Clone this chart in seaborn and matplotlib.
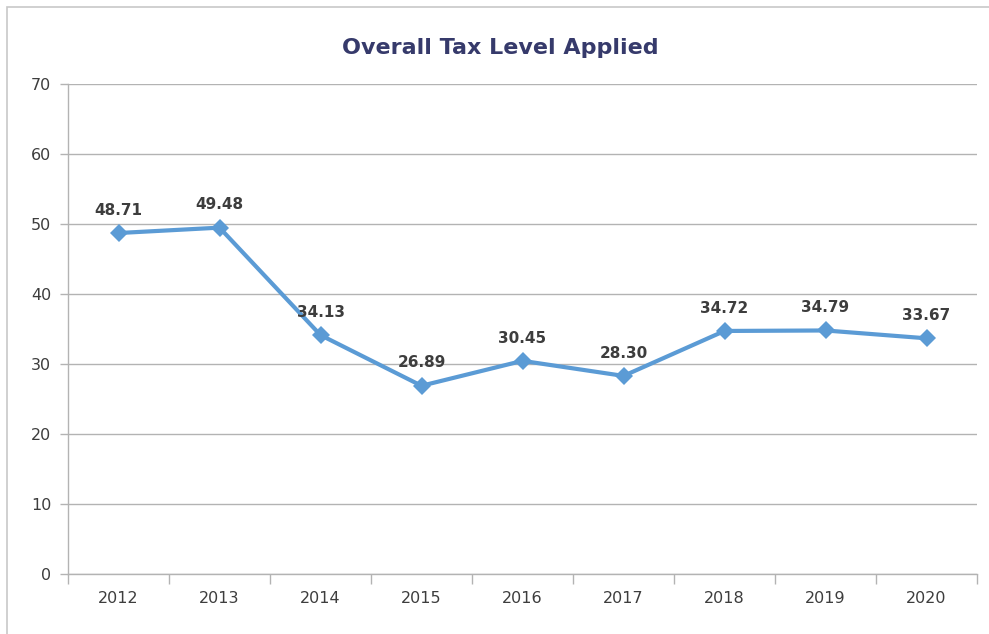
import matplotlib
matplotlib.use("Agg")
import matplotlib.pyplot as plt
from matplotlib.patches import Rectangle
from matplotlib.ticker import FixedLocator, NullFormatter
import pandas as pd
import seaborn as sns

years = ["2012", "2013", "2014", "2015", "2016", "2017", "2018", "2019", "2020"]
tax_level = [48.71, 49.48, 34.13, 26.89, 30.45, 28.30, 34.72, 34.79, 33.67]
y_ticks = [0, 10, 20, 30, 40, 50, 60, 70]
title = "Overall Tax Level Applied"

sns.set_theme(style="white")
plt.rcParams["font.family"] = ["DejaVu Sans"]

line_color = "#5b9bd5"
grid_color = "#b3b3b3"
text_color = "#3d3d3d"

df = pd.DataFrame({"year": years, "value": tax_level})

fig = plt.figure(figsize=(9.89, 6.34), dpi=100)
ax = fig.add_axes([68 / 989, 60 / 634, 909 / 989, 490 / 634])

sns.lineplot(data=df, x="year", y="value", ax=ax, color=line_color,
             linewidth=3, marker="D", markersize=9, markeredgewidth=0,
             sort=False, zorder=3)

ax.set_xlim(-0.5, len(years) - 0.5)
ax.set_ylim(0, 70)
ax.set_yticks(y_ticks)
ax.set_yticklabels([str(t) for t in y_ticks])
ax.set_xticks(range(len(years)))
ax.set_xticklabels(years)
ax.xaxis.set_minor_locator(FixedLocator([i - 0.5 for i in range(len(years) + 1)]))
ax.xaxis.set_minor_formatter(NullFormatter())

ax.set_xlabel("")
ax.set_ylabel("")
ax.grid(axis="y", color=grid_color, linewidth=1)
ax.set_axisbelow(True)
for side in ("top", "right"):
    ax.spines[side].set_visible(False)
for side in ("left", "bottom"):
    ax.spines[side].set_color(grid_color)
    ax.spines[side].set_linewidth(1)

ax.tick_params(axis="y", which="major", length=6, color=grid_color, width=1,
               labelsize=11.5, labelcolor=text_color, pad=6, left=True)
ax.tick_params(axis="x", which="major", length=0, labelsize=11.5,
               labelcolor=text_color, pad=12)
ax.tick_params(axis="x", which="minor", length=7, color=grid_color, width=1,
               bottom=True)

for i, v in enumerate(tax_level):
    ax.annotate(f"{v:.2f}", (i, v), xytext=(0, 11), textcoords="offset points",
                ha="center", va="bottom", fontsize=11, fontweight="bold",
                color=text_color)

fig.text(500 / 989, 1 - 48 / 634, title, ha="center", va="center",
         fontsize=16, fontweight="bold", color="#363a6b")

# outer chart frame
fig.patches.append(Rectangle((7 / 989, -0.05), 1.1, 1 - 7 / 634 + 0.05,
                             transform=fig.transFigure, fill=False,
                             edgecolor="#c8c8c8", linewidth=1.2))

fig.savefig("out.png", dpi=100)
